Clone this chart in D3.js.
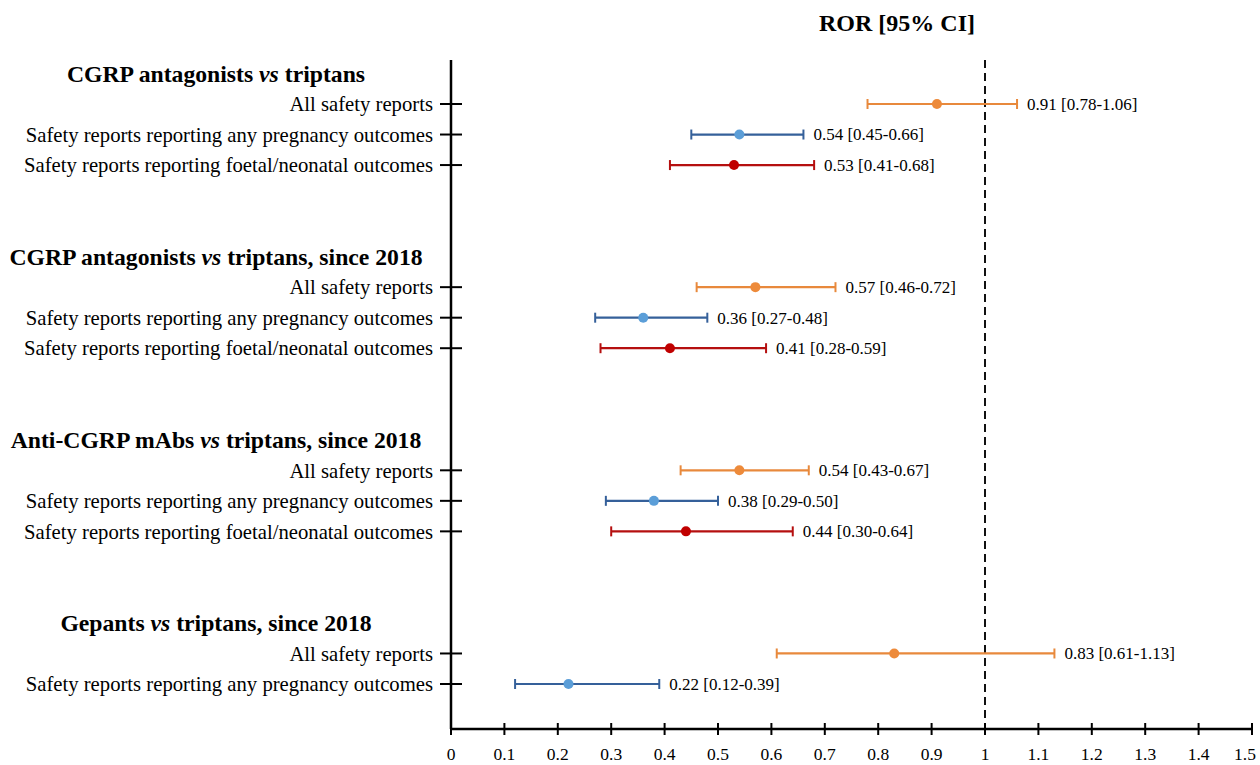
<!DOCTYPE html>
<html>
<head>
<meta charset="UTF-8" />
<script src="https://d3js.org/d3.v7.min.js"></script>
<style>
  body { margin: 0; background: #fff; overflow: hidden; }
  svg { display: block; font-family: "Liberation Serif", "Times New Roman", serif; }
</style>
</head>
<body>
<div id="chart"></div>
<script>
  // groups and rows (slot = vertical position index)
  const groupTitles = [
    ["CGRP antagonists ", "vs", " triptans"],
    ["CGRP antagonists ", "vs", " triptans, since 2018"],
    ["Anti-CGRP mAbs ", "vs", " triptans, since 2018"],
    ["Gepants ", "vs", " triptans, since 2018"]
  ];
  const groupSlots = [0, 6, 12, 18];

  const rowLabels = [
    "All safety reports",
    "Safety reports reporting any pregnancy outcomes",
    "Safety reports reporting foetal/neonatal outcomes",
    "All safety reports",
    "Safety reports reporting any pregnancy outcomes",
    "Safety reports reporting foetal/neonatal outcomes",
    "All safety reports",
    "Safety reports reporting any pregnancy outcomes",
    "Safety reports reporting foetal/neonatal outcomes",
    "All safety reports",
    "Safety reports reporting any pregnancy outcomes"
  ];
  const rowSlots = [1, 2, 3, 7, 8, 9, 13, 14, 15, 19, 20];
  const rowType = ["all", "preg", "foetal", "all", "preg", "foetal", "all", "preg", "foetal", "all", "preg"];
  const ror = [0.91, 0.54, 0.53, 0.57, 0.36, 0.41, 0.54, 0.38, 0.44, 0.83, 0.22];
  const lower = [0.78, 0.45, 0.41, 0.46, 0.27, 0.28, 0.43, 0.29, 0.30, 0.61, 0.12];
  const upper = [1.06, 0.66, 0.68, 0.72, 0.48, 0.59, 0.67, 0.50, 0.64, 1.13, 0.39];
  const ciText = ["0.91 [0.78-1.06]", "0.54 [0.45-0.66]", "0.53 [0.41-0.68]",
                  "0.57 [0.46-0.72]", "0.36 [0.27-0.48]", "0.41 [0.28-0.59]",
                  "0.54 [0.43-0.67]", "0.38 [0.29-0.50]", "0.44 [0.30-0.64]",
                  "0.83 [0.61-1.13]", "0.22 [0.12-0.39]"];

  const xTicks = [0, 0.1, 0.2, 0.3, 0.4, 0.5, 0.6, 0.7, 0.8, 0.9, 1, 1.1, 1.2, 1.3, 1.4, 1.5];

  const lineColor = { all: "#e8893c", preg: "#35609a", foetal: "#b50f0f" };
  const dotColor = { all: "#ed8a3a", preg: "#5b9ed8", foetal: "#c00000" };

  const W = 1260, H = 765;
  const svg = d3.select("#chart").append("svg").attr("width", W).attr("height", H);

  const x = d3.scaleLinear().domain([0, 1.5]).range([451, 1252]);
  const y = d3.scaleLinear().domain([1, 20]).range([104, 684]);
  const axisY = 729, axisTop = 60;

  // title
  svg.append("text")
    .attr("x", 897).attr("y", 31)
    .attr("text-anchor", "middle")
    .style("font-size", "24px").style("font-weight", "bold")
    .text("ROR [95% CI]");

  // reference line at 1
  svg.append("line")
    .attr("x1", x(1)).attr("x2", x(1))
    .attr("y1", axisTop).attr("y2", axisY - 10)
    .attr("stroke", "#111").attr("stroke-width", 2)
    .attr("stroke-dasharray", "8,5");

  // x axis
  const xAxis = svg.append("g").attr("transform", `translate(0,${axisY})`);
  xAxis.append("line").attr("x1", x(0)).attr("x2", x(1.5))
    .attr("stroke", "#000").attr("stroke-width", 2.5);
  xAxis.selectAll(".xt").data(xTicks).join("line")
    .attr("x1", d => x(d)).attr("x2", d => x(d))
    .attr("y1", -6).attr("y2", 6)
    .attr("stroke", "#000").attr("stroke-width", 2);
  // last label pulled in so it stays inside the page
  xAxis.selectAll(".xl").data(xTicks).join("text")
    .attr("x", (d, i) => i === xTicks.length - 1 ? x(d) - 7 : x(d))
    .attr("y", 31)
    .attr("text-anchor", "middle")
    .style("font-size", "17.5px")
    .text(d => d3.format("~g")(d));

  // y axis
  svg.append("line").attr("x1", x(0)).attr("x2", x(0))
    .attr("y1", axisTop).attr("y2", axisY)
    .attr("stroke", "#000").attr("stroke-width", 2.5);
  svg.selectAll(".yt").data(rowSlots).join("line")
    .attr("x1", x(0) - 11).attr("x2", x(0) + 11)
    .attr("y1", d => y(d)).attr("y2", d => y(d))
    .attr("stroke", "#000").attr("stroke-width", 2);

  // row labels
  svg.selectAll(".rl").data(rowLabels).join("text")
    .attr("x", 433)
    .attr("y", (d, i) => y(rowSlots[i]))
    .attr("dy", "0.35em")
    .attr("text-anchor", "end")
    .style("font-size", "20.7px")
    .text(d => d);

  // group titles
  const gt = svg.selectAll(".gt").data(groupTitles).join("text")
    .attr("x", 216)
    .attr("y", (d, i) => y(groupSlots[i]))
    .attr("dy", "0.35em")
    .attr("text-anchor", "middle")
    .style("font-size", "23.7px").style("font-weight", "bold");
  gt.append("tspan").text(d => d[0]);
  gt.append("tspan").style("font-style", "italic").text(d => d[1]);
  gt.append("tspan").text(d => d[2]);

  // error bars
  const idx = d3.range(ror.length);
  const bars = svg.selectAll(".bar").data(idx).join("g")
    .attr("transform", i => `translate(0,${y(rowSlots[i])})`);
  bars.append("line")
    .attr("x1", i => x(lower[i])).attr("x2", i => x(upper[i]))
    .attr("stroke", i => lineColor[rowType[i]]).attr("stroke-width", 2.2);
  bars.append("line")
    .attr("x1", i => x(lower[i])).attr("x2", i => x(lower[i]))
    .attr("y1", -5).attr("y2", 5)
    .attr("stroke", i => lineColor[rowType[i]]).attr("stroke-width", 2);
  bars.append("line")
    .attr("x1", i => x(upper[i])).attr("x2", i => x(upper[i]))
    .attr("y1", -5).attr("y2", 5)
    .attr("stroke", i => lineColor[rowType[i]]).attr("stroke-width", 2);
  bars.append("circle")
    .attr("cx", i => x(ror[i])).attr("r", 5)
    .attr("fill", i => dotColor[rowType[i]]);
  bars.append("text")
    .attr("x", i => x(upper[i]) + 10)
    .attr("dy", "0.35em")
    .style("font-size", "17px")
    .text(i => ciText[i]);
</script>
</body>
</html>
